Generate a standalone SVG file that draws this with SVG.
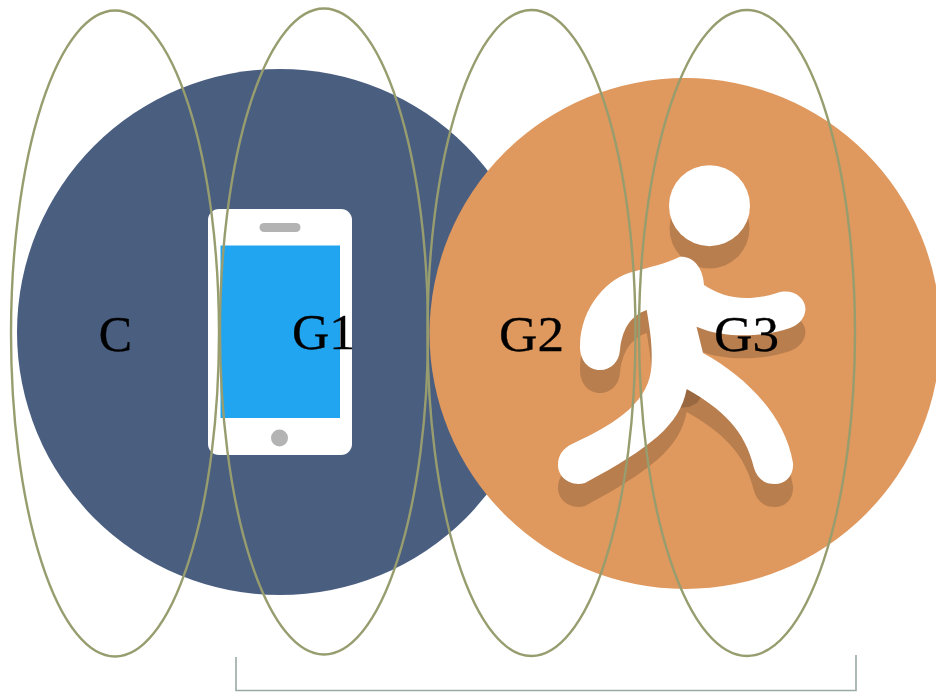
<svg xmlns="http://www.w3.org/2000/svg" width="936" height="692" viewBox="0 0 936 692">
<style>
.ring{fill:none;stroke:#979d6e;stroke-width:2.4}
.lbl{font-family:"Liberation Serif","Times New Roman",serif;font-size:50px;fill:#000;stroke:#000;stroke-width:.3;text-anchor:middle}
.sh{fill:#000;fill-opacity:.17}
.w{fill:#fff}
</style>
<defs>
<path id="body" d="M680 256.700C692 256 703 266 704 285C722 297 745 303 777 293C791 288 805 296 805.500 309C805 319 798 325 790 328C765 337 725 339 696.500 326.700L703 353C745 376 785 415 793 463C794 476 785 484 775 484C764 484 757 478 754 468C745 430 722 409 686.700 389C680 425 650 448 585 483C570 487 558 477 558 465C558 454 564 448 572 444C620 422 650 400 651.500 365C652.500 345 650 330 646.700 310C630 316 622 330 620 350C619 362 611 370 600 370C588 370 580 360 580 347C580 305 610 277 633 271.700C650 267 665 264 680 256.700Z"/>
</defs>
<g id="node-blue">
<circle cx="280" cy="332" r="263" fill="#4a5e80"/>
<rect x="208" y="209" width="144" height="246" rx="11" class="w"/>
<rect x="220.500" y="245.500" width="119.500" height="172.500" fill="#22a5f0"/>
<rect x="259.500" y="223" width="41" height="9" rx="4.500" fill="#b3b3b3"/>
<circle cx="279.500" cy="438" r="8.500" fill="#b3b3b3"/>
</g>
<g id="node-orange">
<circle cx="685" cy="333.500" r="255.500" fill="#df985e"/>
<circle cx="709.500" cy="228.500" r="40" class="sh"/>
<use href="#body" y="23" class="sh"/>
<path d="M686.700 389L701 397L697 403L689 407L679 408Z" class="sh"/>
<circle cx="709.500" cy="205.700" r="40.500" class="w"/>
<use href="#body" class="w"/>
</g>
<g id="connectors">
<path d="M236 657V690.500H856V655" fill="none" stroke="#99a9a5" stroke-width="1.600"/>
</g>
<g id="node-c"><ellipse class="ring" cx="115" cy="333.500" rx="104" ry="323"/><text class="lbl" x="115.500" y="351">C</text></g>
<g id="node-g1"><ellipse class="ring" cx="324" cy="331.500" rx="104" ry="323"/><text class="lbl" x="323.500" y="349" textLength="63" lengthAdjust="spacingAndGlyphs">G1</text></g>
<g id="node-g2"><ellipse class="ring" cx="531.500" cy="333" rx="104" ry="323"/><text class="lbl" x="531.500" y="351" textLength="65" lengthAdjust="spacingAndGlyphs">G2</text></g>
<g id="node-g3"><ellipse class="ring" cx="747" cy="333" rx="108" ry="323"/><text class="lbl" x="746.500" y="351" textLength="65" lengthAdjust="spacingAndGlyphs">G3</text></g>
</svg>
